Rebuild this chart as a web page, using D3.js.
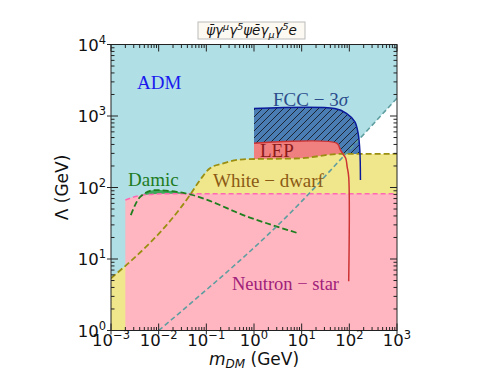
<!DOCTYPE html>
<html>
<head>
<meta charset="utf-8">
<script src="https://d3js.org/d3.v7.min.js"></script>
<style>
  html, body { margin: 0; padding: 0; background: white; }
  svg { display: block; }
</style>
</head>
<body>
<div id="chart"></div>
<script>
// ---- data (m in GeV, Lambda in GeV) ----
const xTicks = [1e-3, 1e-2, 1e-1, 1e0, 1e1, 1e2, 1e3];
const xTickExp = ["-3", "-2", "-1", "0", "1", "2", "3"];
const yTicks = [1e0, 1e1, 1e2, 1e3, 1e4];
const yTickExp = ["0", "1", "2", "3", "4"];

// ADM boundary (cadetblue dashed)
const admM = [1e-2, 0.0324, 9.12, 69.2, 1000];
const admL = [1, 1.94, 60.1, 257, 1778];

// white dwarf boundary (olive dashed)
const wdM = [1e-3, 0.0453, 0.0735, 0.119, 0.226, 0.594, 9.18, 63, 1000];
const wdL = [5.37, 78.5, 127, 186, 218, 248, 256, 295, 295];

// neutron star boundary (pink dashed)
const nsM = [2e-3, 4e-3, 1.5e-2, 1000];
const nsL = [67, 77, 82, 82];

// Damic (green dashed)
const damicM = [2.6e-3, 4.1e-3, 8.3e-3, 0.024, 0.0453, 0.82, 8.45];
const damicL = [41, 74, 92, 87, 80, 38, 22.9];

// FCC 3 sigma
const fccM = [1, 49.7, 87, 130, 153, 166, 171];
const fccL = [1270, 1270, 1090, 832, 573, 334, 127];

// LEP
const lepM = [1, 55, 64, 72, 84, 90, 97, 97];
const lepL = [415, 415, 342, 300, 256, 195, 140, 4.9];

const W = 496, H = 372;
const pL = 111, pR = 397, pT = 44.5, pB = 330.5;

const svg = d3.select("#chart").append("svg")
    .attr("width", W).attr("height", H);

const x = d3.scaleLog().domain([1e-3, 1e3]).range([pL, pR]);
const y = d3.scaleLog().domain([1, 1e4]).range([pB, pT]);

const zip = (ms, ls) => ms.map((m, i) => [m, ls[i]]);

// clip + hatch
const defs = svg.append("defs");
defs.append("clipPath").attr("id", "plot")
    .append("rect").attr("x", pL).attr("y", pT)
    .attr("width", pR - pL).attr("height", pB - pT);

const pat = defs.append("pattern").attr("id", "hatch")
    .attr("patternUnits", "userSpaceOnUse")
    .attr("width", 7).attr("height", 7);
pat.append("rect").attr("width", 7).attr("height", 7).attr("fill", "#4a7db3");
pat.append("path").attr("d", "M0,7 L7,0 M-1,1 L1,-1 M6,8 L8,6")
    .attr("stroke", "#111").attr("stroke-width", 0.8);

const g = svg.append("g").attr("clip-path", "url(#plot)");

// background white, ADM region light blue above its line
g.append("rect").attr("x", pL).attr("y", pT)
    .attr("width", pR - pL).attr("height", pB - pT).attr("fill", "white");
g.append("rect").attr("x", pL).attr("y", pT)
    .attr("width", x(admM[0]) - pL + 0.5).attr("height", pB - pT)
    .attr("fill", "#b0e0e6");
g.append("path")
    .datum(zip(admM, admL))
    .attr("d", d3.area().x(d => x(d[0])).y0(pT).y1(d => y(d[1])).curve(d3.curveMonotoneX))
    .attr("fill", "#b0e0e6");

// Damic filled bump
g.append("path")
    .datum(zip(damicM.slice(0, 5), damicL.slice(0, 5)))
    .attr("d", d3.area().x(d => x(d[0])).y0(pB).y1(d => y(d[1])).curve(d3.curveMonotoneX))
    .attr("fill", "#3ca85a");

// FCC hatched region
const fccPts = zip(fccM, fccL);
const lineCR = d3.line().x(d => x(d[0])).y(d => y(d[1])).curve(d3.curveCatmullRom.alpha(0.5));
g.append("path")
    .attr("d", lineCR(fccPts) + `L${x(1)},${y(fccL[fccL.length - 1])}Z`)
    .attr("fill", "url(#hatch)");

// LEP region
const lepPts = zip(lepM, lepL);
g.append("path")
    .attr("d", lineCR(lepPts) + `L${x(1)},${y(lepL[lepL.length - 1])}Z`)
    .attr("fill", "#f08080");

// White dwarf region
g.append("path")
    .datum(zip(wdM, wdL))
    .attr("d", d3.area().x(d => x(d[0])).y0(pB).y1(d => y(d[1])).curve(d3.curveMonotoneX))
    .attr("fill", "#f0e68c");

// Neutron star region
g.append("path")
    .datum(zip(nsM, nsL))
    .attr("d", d3.area().x(d => x(d[0])).y0(pB).y1(d => y(d[1])).curve(d3.curveMonotoneX))
    .attr("fill", "#ffb6c1");

// boundary lines
const lineM = d3.line().x(d => x(d[0])).y(d => y(d[1])).curve(d3.curveMonotoneX);

g.append("path").datum(zip(nsM, nsL)).attr("d", lineM)
    .attr("fill", "none").attr("stroke", "#ff69b4").attr("stroke-width", 1.5)
    .attr("stroke-dasharray", "5,3");

g.append("path").datum(zip(wdM, wdL)).attr("d", lineM)
    .attr("fill", "none").attr("stroke", "#9b8f12").attr("stroke-width", 1.8)
    .attr("stroke-dasharray", "6,3");

g.append("path").datum(zip(damicM, damicL)).attr("d", lineM)
    .attr("fill", "none").attr("stroke", "#1f7f1f").attr("stroke-width", 1.8)
    .attr("stroke-dasharray", "6,3");

g.append("path").datum(zip(admM, admL)).attr("d", lineM)
    .attr("fill", "none").attr("stroke", "#5f9ea0").attr("stroke-width", 1.6)
    .attr("stroke-dasharray", "5,3");

g.append("path").attr("d", lineCR(fccPts))
    .attr("fill", "none").attr("stroke", "#0a1a9a").attr("stroke-width", 1.5);

g.append("path").attr("d", lineCR(lepPts))
    .attr("fill", "none").attr("stroke", "#cc3333").attr("stroke-width", 1.5);

// region labels
const serif = "'Liberation Serif', 'Times New Roman', serif";
function label(txt, px, py, color) {
    return svg.append("text").attr("x", px).attr("y", py)
        .attr("font-family", serif).attr("font-size", 19)
        .attr("fill", color).text(txt);
}
label("ADM", 137, 89, "#1a1aee");
const fccT = label("FCC \u2212 3", 273, 106, "#2b4d8c");
fccT.append("tspan").attr("font-style", "italic").text("\u03c3");
label("LEP", 260, 157, "#8b1a1a");
label("Damic", 128, 186, "#1e7b1e");
label("White \u2212 dwarf", 213, 187, "#8b5a14");
label("Neutron \u2212 star", 232, 290, "#a0207a").attr("font-size", 18.5);

// axes frame
svg.append("rect").attr("x", pL).attr("y", pT)
    .attr("width", pR - pL).attr("height", pB - pT)
    .attr("fill", "none").attr("stroke", "#222").attr("stroke-width", 1);

const ticks = svg.append("g").attr("stroke", "#222").attr("stroke-width", 1);
function minors(dom) {
    const out = [];
    for (let e = Math.log10(dom[0]); e < Math.log10(dom[1]); e++)
        for (let k = 2; k <= 9; k++) out.push(k * Math.pow(10, e));
    return out;
}
minors(x.domain()).forEach(v => {
    ticks.append("line").attr("x1", x(v)).attr("x2", x(v)).attr("y1", pB).attr("y2", pB - 3.5);
    ticks.append("line").attr("x1", x(v)).attr("x2", x(v)).attr("y1", pT).attr("y2", pT + 3.5);
});
minors(y.domain()).forEach(v => {
    ticks.append("line").attr("y1", y(v)).attr("y2", y(v)).attr("x1", pL).attr("x2", pL + 3.5);
    ticks.append("line").attr("y1", y(v)).attr("y2", y(v)).attr("x1", pR).attr("x2", pR - 3.5);
});
xTicks.forEach(v => {
    ticks.append("line").attr("x1", x(v)).attr("x2", x(v)).attr("y1", pB + 4).attr("y2", pB - 7);
    ticks.append("line").attr("x1", x(v)).attr("x2", x(v)).attr("y1", pT).attr("y2", pT + 7);
});
yTicks.forEach(v => {
    ticks.append("line").attr("y1", y(v)).attr("y2", y(v)).attr("x1", pL - 4).attr("x2", pL + 7);
    ticks.append("line").attr("y1", y(v)).attr("y2", y(v)).attr("x1", pR).attr("x2", pR - 7);
});

// tick labels
const sans = "'DejaVu Sans', sans-serif";
xTicks.forEach((v, i) => {
    const t = svg.append("text").attr("x", x(v)).attr("y", pB + 15)
        .attr("text-anchor", "middle").attr("font-family", sans).attr("font-size", 16.5)
        .attr("fill", "#111");
    t.append("tspan").text("10");
    t.append("tspan").attr("font-size", 11.5).attr("dy", -7).text(xTickExp[i].replace("-", "\u2212"));
});
yTicks.forEach((v, i) => {
    const t = svg.append("text").attr("x", pL - 5).attr("y", y(v) + 6)
        .attr("text-anchor", "end").attr("font-family", sans).attr("font-size", 16.5)
        .attr("fill", "#111");
    t.append("tspan").text("10");
    t.append("tspan").attr("font-size", 11.5).attr("dy", -7).text(yTickExp[i]);
});

// axis labels
const xl = svg.append("text").attr("x", (pL + pR) / 2).attr("y", 365)
    .attr("text-anchor", "middle").attr("font-family", sans).attr("font-size", 17)
    .attr("fill", "#111");
xl.append("tspan").attr("font-style", "italic").text("m");
xl.append("tspan").attr("font-style", "italic").attr("font-size", 12).attr("dy", 3).text("DM");
xl.append("tspan").attr("dy", -3).text(" (GeV)");

svg.append("text")
    .attr("transform", `translate(68,${(pT + pB) / 2}) rotate(-90)`)
    .attr("text-anchor", "middle").attr("font-family", sans).attr("font-size", 17)
    .attr("fill", "#111").text("\u039b (GeV)");

// title box
svg.append("rect").attr("x", 198).attr("y", 22).attr("width", 107).attr("height", 17)
    .attr("fill", "#fcf8f2").attr("stroke", "#bbb").attr("stroke-width", 1);
const tt = svg.append("text").attr("x", 251.5).attr("y", 35)
    .attr("text-anchor", "middle").attr("font-family", sans).attr("font-size", 13.5)
    .attr("font-style", "italic").attr("fill", "#111");
const parts = [
    ["\u03c8\u0304", 0], ["\u03b3", 0], ["\u03bc", 1], ["\u03b3", 0], ["5", 1],
    ["\u03c8", 0], ["e\u0304", 0], ["\u03b3", 0], ["\u03bc", -1], ["\u03b3", 0], ["5", 1], ["e", 0]
];
let shift = 0;
parts.forEach(([s, k]) => {
    const target = k === 1 ? -5 : k === -1 ? 3 : 0;
    const sp = tt.append("tspan").attr("dy", target - shift).text(s);
    if (k !== 0) sp.attr("font-size", 9.5);
    shift = target;
});
</script>
</body>
</html>
